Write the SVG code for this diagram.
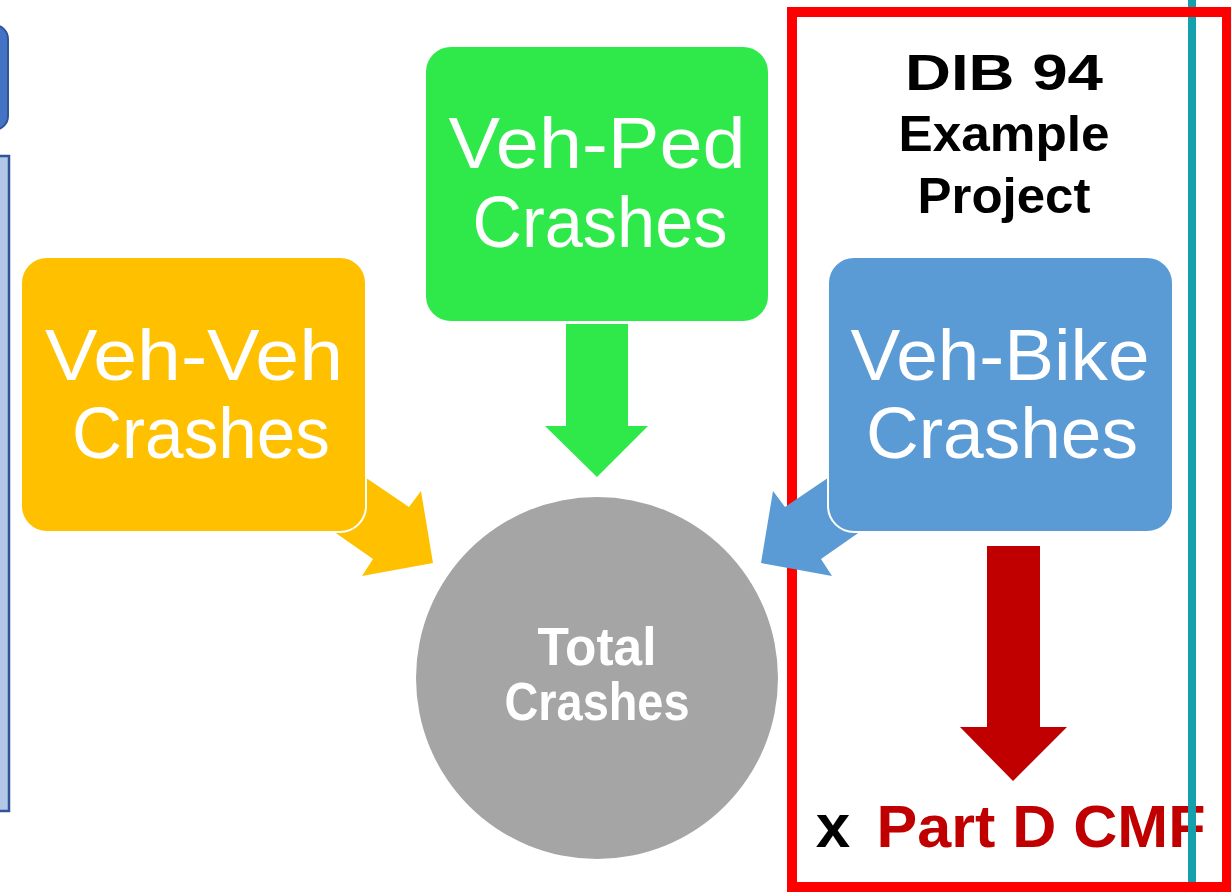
<svg xmlns="http://www.w3.org/2000/svg" width="1231" height="892" viewBox="0 0 1231 892">
<style>
.lbl{font-family:"Liberation Sans",Arial,sans-serif;font-size:72px;fill:#fff;text-anchor:middle}
.bold{font-family:"Liberation Sans",Arial,sans-serif;font-weight:bold;text-anchor:middle}
.box{stroke:#fff;stroke-width:2}
</style>
<rect width="1231" height="892" fill="#fff"/>
<g id="left-panels">
<rect x="-20" y="25" width="28" height="105" rx="14" fill="#4472C4" stroke="#2F5597" stroke-width="2"/>
<rect x="-4" y="156" width="13" height="655" fill="#B4C7E7" stroke="#2F5597" stroke-width="2.5"/>
</g>
<g id="cmf-label">
<text class="bold" x="833" y="847" font-size="62" fill="#000">x</text>
<text class="bold" x="1041" y="847" font-size="60" fill="#C00000" textLength="329" lengthAdjust="spacingAndGlyphs">Part D CMF</text>
</g>
<rect id="divider" x="1188" y="0" width="8" height="885" fill="#15A0AE"/>
<g id="example-frame">
<rect x="792" y="12" width="435" height="875" fill="none" stroke="#FF0000" stroke-width="10"/>
<text class="bold" x="1004" y="90" font-size="50" fill="#000" textLength="198" lengthAdjust="spacingAndGlyphs">DIB 94</text>
<text class="bold" x="1004" y="151" font-size="50" fill="#000" textLength="211" lengthAdjust="spacingAndGlyphs">Example</text>
<text class="bold" x="1004" y="213" font-size="50" fill="#000" textLength="173" lengthAdjust="spacingAndGlyphs">Project</text>
</g>
<g id="connectors">
<polygon fill="#FFC000" points="350,467 409,507 421,491 433,563 362,576 373,559 320,522"/>
<polygon fill="#5B9BD5" points="844,467 785,507 773,491 761,563 832,576 821,559 874,522"/>
<polygon fill="#2FE84A" points="566,324 628,324 628,426 648,426 597,477 545,426 566,426"/>
<polygon fill="#C00000" points="987,546 1040,546 1040,727 1067,727 1013,781 960,727 987,727"/>
</g>
<g id="veh-ped">
<rect class="box" x="425" y="46" width="344" height="276" rx="26" fill="#2FE84A"/>
<text class="lbl" x="597" y="168" textLength="297" lengthAdjust="spacingAndGlyphs">Veh-Ped</text>
<text class="lbl" x="600" y="247" textLength="255" lengthAdjust="spacingAndGlyphs">Crashes</text>
</g>
<g id="veh-veh">
<rect class="box" x="21" y="257" width="345" height="275" rx="26" fill="#FFC000"/>
<text class="lbl" x="194" y="380" textLength="298" lengthAdjust="spacingAndGlyphs">Veh-Veh</text>
<text class="lbl" x="201" y="458" textLength="258" lengthAdjust="spacingAndGlyphs">Crashes</text>
</g>
<g id="veh-bike">
<rect class="box" x="828" y="257" width="345" height="275" rx="26" fill="#5B9BD5"/>
<text class="lbl" x="1000" y="380" textLength="299" lengthAdjust="spacingAndGlyphs">Veh-Bike</text>
<text class="lbl" x="1002" y="458" textLength="272" lengthAdjust="spacingAndGlyphs">Crashes</text>
</g>
<g id="total">
<circle cx="597" cy="678" r="181" fill="#A5A5A5"/>
<text class="bold" x="597" y="665" font-size="54" fill="#fff" textLength="119" lengthAdjust="spacingAndGlyphs">Total</text>
<text class="bold" x="597" y="720" font-size="54" fill="#fff" textLength="185" lengthAdjust="spacingAndGlyphs">Crashes</text>
</g>
</svg>
